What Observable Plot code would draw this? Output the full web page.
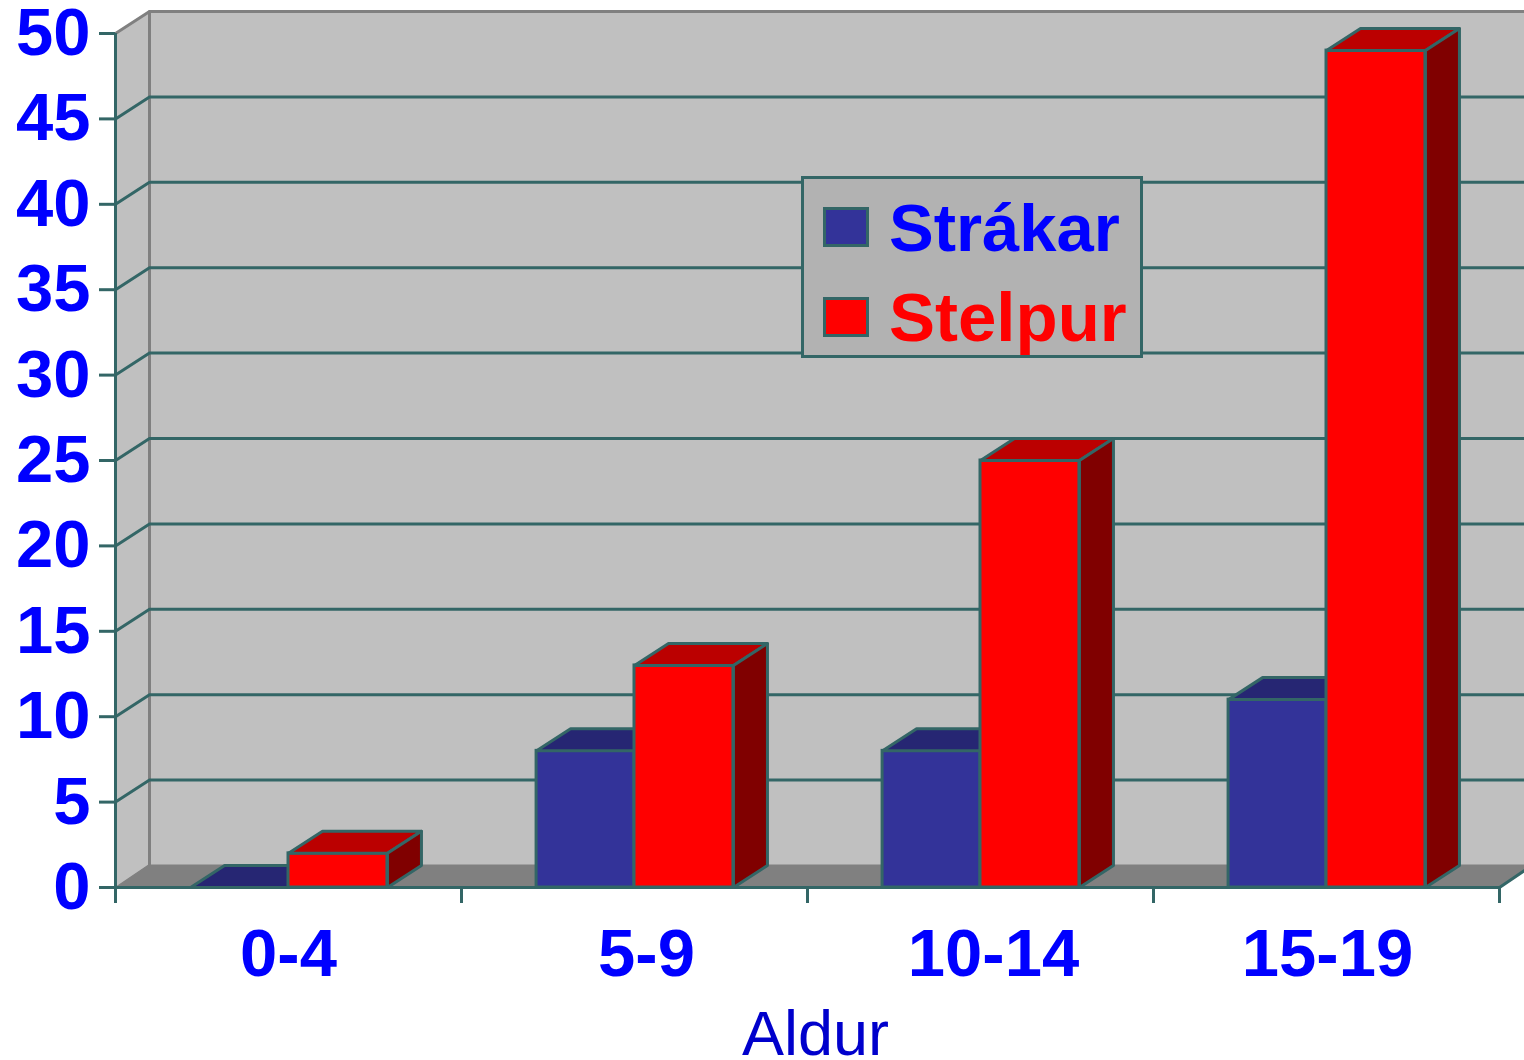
<!DOCTYPE html>
<html>
<head>
<meta charset="utf-8">
<script src="https://cdn.jsdelivr.net/npm/d3@7"></script>
<script src="https://cdn.jsdelivr.net/npm/@observablehq/plot@0.6"></script>
<style>
html,body{margin:0;padding:0;background:#fff;overflow:hidden}
#wrap{position:relative;width:1524px;height:1060px;overflow:hidden}
#legend{position:absolute;left:801px;top:176px;width:342px;height:182px;box-sizing:border-box;background:#b2b2b2;border:3px solid #336666;font-family:"Liberation Sans",Arial,sans-serif;font-weight:bold}
.sw{position:absolute;left:19px;width:46px;height:40px;box-sizing:border-box;border:3px solid #336666}
.lab{position:absolute;left:85px;line-height:70px;white-space:nowrap}
</style>
</head>
<body>
<div id="wrap">
<div id="chart"></div>
<div id="legend"></div>
</div>
<script>
const categories = ["0-4", "5-9", "10-14", "15-19"];
const strakar = [0, 8, 8, 11];
const stelpur = [2, 13, 25, 49];
const yTicks = [0, 5, 10, 15, 20, 25, 30, 35, 40, 45, 50];
const xTicks = [0, 1, 2, 3, 4];
const labelNudge = [0, 12, 13, 1];

const edge = "#336666";
const lineW = 3;
const depthX = 34 / 346, depthY = 22 / 17.08, floorY = 23 / 17.08;
const offsets = {strakar: [0.217, 0.5], stelpur: [0.5, 0.786]};
const palette = {
  strakar: {front: "#333399", top: "#262673", side: "#1a1a4d"},
  stelpur: {front: "#ff0000", top: "#bb0000", side: "#800000"}
};
const poly = (pts, o) => Plot.line(pts, {x: "0", y: "1", curve: "linear-closed", ...o});
const path = (pts, o) => Plot.line(pts, {x: "0", y: "1", ...o});

function bar(key, i, v) {
  const [a, b] = offsets[key].map(d => d + i);
  const c = palette[key];
  const o = {stroke: edge, strokeWidth: lineW};
  return [
    Plot.rectY([v], {x1: () => a, x2: () => b, y1: () => 0, y2: d => d, fill: c.front, inset: 0, ...o}),
    poly([[a, v], [a + depthX, v + depthY], [b + depthX, v + depthY], [b, v]], {fill: c.top, ...o}),
    poly([[b, 0], [b + depthX, depthY], [b + depthX, v + depthY], [b, v]], {fill: c.side, ...o})
  ];
}

const right = 4 + depthX;
const chart = Plot.plot({
  width: 1524, height: 1060,
  marginLeft: 115, marginRight: 25, marginTop: 33, marginBottom: 173,
  style: {background: "#fff", overflow: "hidden"},
  x: {domain: [0, 4], axis: null},
  y: {domain: [0, 50], axis: null},
  marks: [
    poly([[depthX, depthY], [right, depthY], [right, 50 + depthY], [depthX, 50 + depthY]], {fill: "#c0c0c0", stroke: "none"}),
    poly([[0, 0], [depthX, depthY], [depthX, 50 + depthY], [0, 50]], {fill: "#c0c0c0", stroke: "none"}),
    poly([[0, 0], [4, 0], [right, floorY], [depthX, floorY]], {fill: "#808080", stroke: "none"}),
    path([[0, 50], [depthX, 50 + depthY], [right, 50 + depthY]], {stroke: "#808080", strokeWidth: lineW}),
    path([[depthX, floorY], [depthX, 50 + depthY]], {stroke: "#808080", strokeWidth: lineW}),
    ...yTicks.filter(t => t > 0 && t < 50).map(t =>
      path([[0, t], [depthX, t + depthY], [right, t + depthY]], {stroke: edge, strokeWidth: lineW})),
    path([[0, 0], [depthX, floorY]], {stroke: "#808080", strokeWidth: 1.5}),
    path([[4, 0], [right, floorY]], {stroke: edge, strokeWidth: lineW}),
    Plot.axisY({ticks: yTicks, tickSize: 16, tickPadding: 9, stroke: edge, strokeWidth: lineW, fill: "#0000ff",
      fontSize: 67, fontWeight: "bold", fontFamily: "Liberation Sans", label: null}),
    Plot.axisX({ticks: xTicks, tickSize: 16, tickFormat: () => "", stroke: edge, strokeWidth: lineW, label: null}),
    Plot.ruleX([0], {stroke: edge, strokeWidth: lineW}),
    Plot.ruleY([0], {stroke: edge, strokeWidth: lineW}),
    ...categories.flatMap((c, i) => [...bar("strakar", i, strakar[i]), ...bar("stelpur", i, stelpur[i])]),
    ...categories.map((c, i) => Plot.text([c], {x: () => i + 0.5, y: () => 0, dx: labelNudge[i], dy: 67,
      text: d => d, fill: "#0000ff", fontSize: 67, fontWeight: "bold", fontFamily: "Liberation Sans"})),
    Plot.text(["Aldur"], {x: () => 2, y: () => 0, dx: 8, dy: 147, text: d => d, fill: "#0000cc",
      fontSize: 63, fontFamily: "Liberation Sans"})
  ]
});
document.getElementById("chart").appendChild(chart);

const legend = document.getElementById("legend");
[["Strákar", "#333399", "#0000ff", 28, 14, 67], ["Stelpur", "#ff0000", "#ff0000", 118, 104, 69]].forEach(([t, sw, col, swTop, top, size]) => {
  const s = document.createElement("div");
  s.className = "sw";
  s.style.background = sw;
  s.style.top = swTop + "px";
  legend.appendChild(s);
  const r = document.createElement("div");
  r.className = "lab";
  r.style.top = top + "px";
  r.style.color = col;
  r.style.fontSize = size + "px";
  r.textContent = t;
  legend.appendChild(r);
});
</script>
</body>
</html>
